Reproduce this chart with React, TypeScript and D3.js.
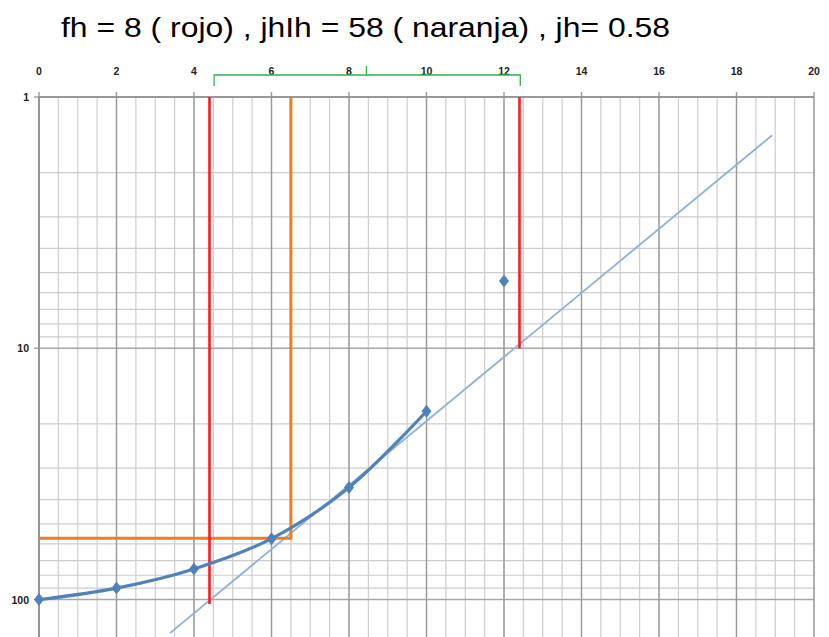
import { useMemo } from "react";
import * as d3 from "d3";

const TITLE = "fh = 8 ( rojo) , jhIh = 58 ( naranja) , jh= 0.58";

// measured points (x on top axis, y on reversed log axis)
const pointX = [0, 2, 4, 6, 8, 10, 12];
const pointY = [100, 90, 75.5, 57.2, 35.8, 17.8, 5.4];
// the smooth curve only joins the first six points
const curveCount = 6;

// straight trend line
const trendX = [3.38, 18.92];
const trendY = [136, 1.42];

const xTicks = [0, 2, 4, 6, 8, 10, 12, 14, 16, 18, 20];
const yTicks = [1, 10, 100];

// red: fh = 8 bracket
const redX = [4.4, 12.4];
const redTop = [1, 1];
const redBottom = [104, 10];

// orange: jhIh = 58
const orangeX = 6.5;
const orangeY = 57;

// green bracket above the plot
const bracketX = [4.52, 12.42];
const bracketMid = 8.45;

const W = 829;
const H = 637;

export default function App() {
  const x = useMemo(() => d3.scaleLinear().domain([0, 20]).range([39, 814]), []);
  const y = useMemo(() => d3.scaleLog().domain([1, 1000]).range([97, 97 + 3 * 251.3]), []);

  const minorX = d3.range(0, 20.01, 0.5);
  const minorY: number[] = [];
  [1, 10, 100].forEach((d) => {
    for (let k = 2; k <= 9; k++) minorY.push(d * k);
  });

  const curvePts = pointX.slice(0, curveCount).map((d, i) => [x(d), y(pointY[i])] as [number, number]);
  const curvePath = d3.line().curve(d3.curveCatmullRom.alpha(0.5))(curvePts) ?? "";

  const diamond = "M0,-6.5L5,0L0,6.5L-5,0Z";
  const left = x(0);
  const right = x(20);
  const top = y(1);

  return (
    <svg
      width={W}
      height={H}
      style={{ position: "absolute", left: 0, top: 0, background: "#fff" }}
      fontFamily="'Liberation Sans', Arial, sans-serif"
    >
      <text
        x={61}
        y={37}
        fontSize={28}
        fill="#000"
        textLength={609}
        lengthAdjust="spacingAndGlyphs"
      >
        {TITLE}
      </text>

      {/* grid */}
      <g>
        {minorY.map((v) => (
          <line key={"hy" + v} x1={left} x2={right} y1={y(v)} y2={y(v)} stroke="#cdcdcd" strokeWidth={1.2} />
        ))}
        {minorX.map((v) => (
          <line key={"vx" + v} x1={x(v)} x2={x(v)} y1={top} y2={H} stroke="#cdcdcd" strokeWidth={1.2} />
        ))}
        {yTicks.map((v) => (
          <line key={"HY" + v} x1={left - 5} x2={right} y1={y(v)} y2={y(v)} stroke="#a6a6a6" strokeWidth={1.5} />
        ))}
        {xTicks.map((v) => (
          <line key={"VX" + v} x1={x(v)} x2={x(v)} y1={top - 5} y2={H} stroke="#9a9a9a" strokeWidth={1.4} />
        ))}
        <line x1={left} x2={right} y1={top} y2={top} stroke="#8c8c8c" strokeWidth={1.5} />
        <line x1={left} x2={left} y1={top} y2={H} stroke="#8c8c8c" strokeWidth={1.5} />
      </g>

      {/* axis labels */}
      {xTicks.map((v) => (
        <text key={"xl" + v} x={x(v)} y={75} fontSize={10.5} fontWeight={600} textAnchor="middle" fill="#222">
          {v}
        </text>
      ))}
      {yTicks.map((v) => (
        <text key={"yl" + v} x={29} y={y(v) + 4} fontSize={10.5} fontWeight={600} textAnchor="end" fill="#222">
          {v}
        </text>
      ))}

      {/* green bracket */}
      <path
        d={`M${x(bracketX[0])},86V75H${x(bracketX[1])}V86M${x(bracketMid)},75V66`}
        fill="none"
        stroke="#2db34a"
        strokeWidth={1.3}
      />

      {/* trend line */}
      <line
        x1={x(trendX[0])}
        y1={y(trendY[0])}
        x2={x(trendX[1])}
        y2={y(trendY[1])}
        stroke="#8eb0db"
        strokeWidth={1.8}
      />

      {/* orange */}
      <path
        d={`M${x(0)},${y(orangeY)}H${x(orangeX)}V${y(1)}`}
        fill="none"
        stroke="#ee7d22"
        strokeWidth={3}
      />

      {/* red */}
      {redX.map((v, i) => (
        <line key={"r" + i} x1={x(v)} x2={x(v)} y1={y(redTop[i])} y2={y(redBottom[i])} stroke="#ff1a1a" strokeWidth={2.6} />
      ))}

      {/* measured curve */}
      <path d={curvePath} fill="none" stroke="#4f81bd" strokeWidth={3.2} strokeLinecap="round" />
      {pointX.map((d, i) => (
        <path key={"p" + i} d={diamond} transform={`translate(${x(d)},${y(pointY[i])})`} fill="#4f81bd" />
      ))}
    </svg>
  );
}
